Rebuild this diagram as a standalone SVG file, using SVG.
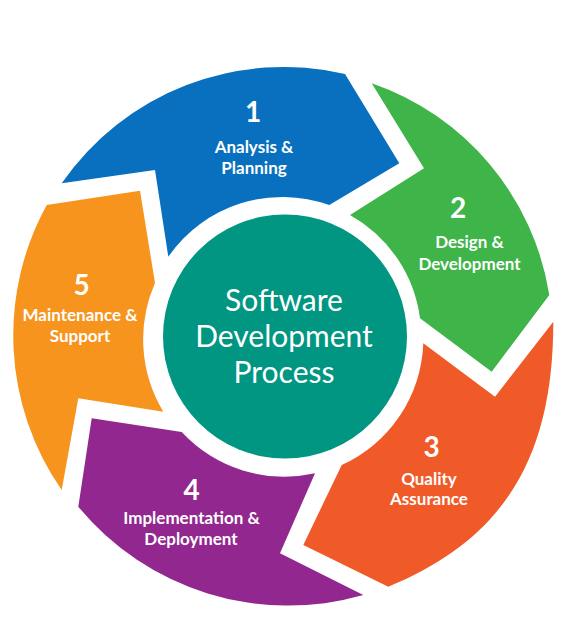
<svg xmlns="http://www.w3.org/2000/svg" width="566" height="634" viewBox="0 0 566 634">
  <style>
    .num { font-family: Lato, "Open Sans", "Liberation Sans", sans-serif; font-weight: 700; font-size: 28px; fill: #ffffff; text-anchor: middle; }
    .lbl { font-family: Lato, "Open Sans", "Liberation Sans", sans-serif; font-weight: 700; font-size: 17px; fill: #ffffff; text-anchor: middle; }
    .hub { font-family: Lato, "Open Sans", "Liberation Sans", sans-serif; font-weight: 400; font-size: 30px; fill: #ffffff; text-anchor: middle; }
  </style>
  <rect width="566" height="634" fill="#ffffff"/>

  <!-- stage 1: blue arrow across the top -->
  <g id="stage-1">
    <path fill="#0870BE" d="M 61.7,183.3 A 270 270 0 0 1 345,74 L 399.3,163.3 L 329.3,205 A 139 139 0 0 0 168.3,256.7 L 155,170 Z"/>
    <text class="num" x="253" y="122">1</text>
    <text class="lbl" x="254" y="152.5">Analysis &amp;</text>
    <text class="lbl" x="254" y="173.5">Planning</text>
  </g>

  <!-- stage 2: green arrow on the right -->
  <g id="stage-2">
    <path fill="#3EB449" d="M 371.7,83.3 A 268 268 0 0 1 549.3,295 L 491.7,371.7 L 420,318.3 A 139 139 0 0 0 350,215 L 424,168.3 Z"/>
    <text class="num" x="458" y="218">2</text>
    <text class="lbl" x="469.5" y="248">Design &amp;</text>
    <text class="lbl" x="469.5" y="270">Development</text>
  </g>

  <!-- stage 3: red-orange arrow, lower right -->
  <g id="stage-3">
    <path fill="#F05A28" d="M 553.3,321.7 C 553.3,451.7 508.7,537.3 388.3,586.7 L 303.3,545 L 341.7,465 A 139 139 0 0 0 423.3,343.3 L 495,396.7 Z"/>
    <text class="num" x="431.5" y="456.7">3</text>
    <text class="lbl" x="429" y="485">Quality</text>
    <text class="lbl" x="429" y="505">Assurance</text>
  </g>

  <!-- stage 4: purple arrow along the bottom -->
  <g id="stage-4">
    <path fill="#92278F" d="M 363.3,595 A 272 272 0 0 1 78.3,506.7 L 91.7,418.3 L 181.7,432 A 140 140 0 0 0 315,473.3 L 280,553.3 Z"/>
    <text class="num" x="191.5" y="500">4</text>
    <text class="lbl" x="191.5" y="524">Implementation &amp;</text>
    <text class="lbl" x="191" y="545">Deployment</text>
  </g>

  <!-- stage 5: orange arrow on the left -->
  <g id="stage-5">
    <path fill="#F7941E" d="M 61.7,490 A 271 271 0 0 1 46.7,205 L 140,190.7 L 155,283 A 140 140 0 0 0 163.3,411.7 L 78.3,398.3 Z"/>
    <text class="num" x="81.5" y="295">5</text>
    <text class="lbl" x="80" y="320.7">Maintenance &amp;</text>
    <text class="lbl" x="80" y="341.7">Support</text>
  </g>

  <!-- central hub -->
  <g id="hub">
    <circle cx="285" cy="336.5" r="122" fill="#009682"/>
    <text class="hub" x="284" y="311">Software</text>
    <text class="hub" x="284" y="347">Development</text>
    <text class="hub" x="284" y="383">Process</text>
  </g>

  <!-- the cycle has no separate connector lines; the arrow shapes carry the flow -->
  <g id="connectors"/>
</svg>
